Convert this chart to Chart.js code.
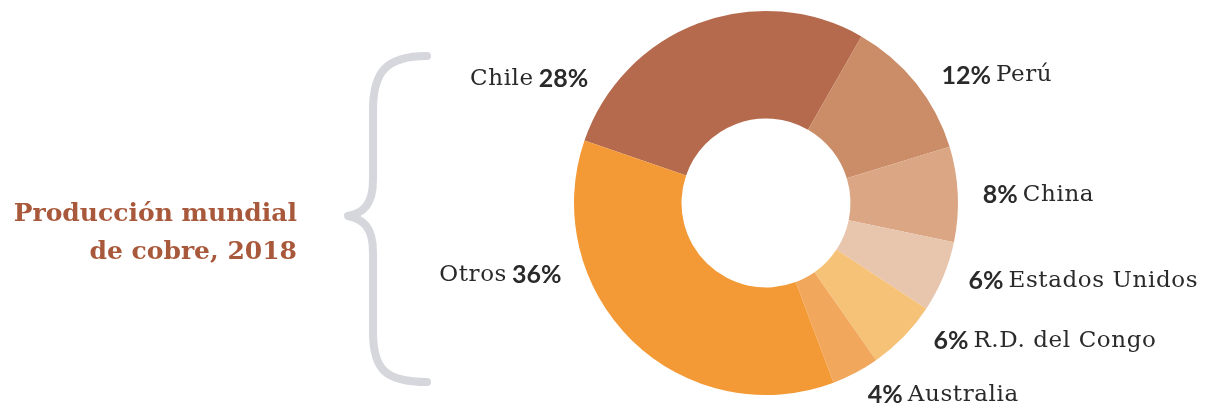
<!DOCTYPE html>
<html lang="es">
<head>
<meta charset="utf-8">
<script src="https://cdn.jsdelivr.net/npm/chart.js@4/dist/chart.umd.min.js"></script>
<style>
  html, body { margin: 0; padding: 0; background: #fff; }
  #wrap { position: relative; width: 1216px; height: 411px; }
  #title {
    position: absolute; right: 919px; top: 194px;
    font-family: 'DejaVu Serif', serif; font-weight: bold; font-size: 25px;
    line-height: 38px; color: #a9593b; text-align: right; white-space: nowrap;
  }
</style>
</head>
<body>
<div id="wrap">
  <div id="title">Producción mundial<br>de cobre, 2018</div>
  <canvas id="chart" width="1216" height="411"></canvas>
</div>
<script>
// Copper production share by country, 2018 (percent)
const countries = ['Chile', 'Perú', 'China', 'Estados Unidos', 'R.D. del Congo', 'Australia', 'Otros'];
const shares = [28, 12, 8, 6, 6, 4, 36];
const sliceColors = ['#b56a4d', '#cb8d68', '#dba683', '#e8c5ad', '#f5c278', '#f2a85c', '#f39a37'];

// where each label sits around the ring (degrees clockwise from 12 o'clock)
const labelAngles = [305, 54, 88, 111, 129.5, 152, 250.5];

const ringLabels = {
  id: 'ringLabels',
  afterDraw(chart) {
    const { ctx } = chart;
    const arcs = chart.getDatasetMeta(0).data;
    if (!arcs.length) return;
    const cx = arcs[0].x, cy = arcs[0].y, r = arcs[0].outerRadius * 1.13;
    ctx.save();
    ctx.textBaseline = 'middle';
    const nameFont = '23px "DejaVu Serif", serif';
    const pctFont = 'bold 25px Lato, sans-serif';
    countries.forEach((name, i) => {
      const a = labelAngles[i] * Math.PI / 180;
      const x = cx + r * Math.sin(a);
      const y = cy - r * Math.cos(a);
      const pct = shares[i] + '%';
      ctx.fillStyle = '#2a2a2a';
      const right = Math.sin(a) >= 0;
      ctx.textAlign = right ? 'left' : 'right';
      ctx.font = pctFont;
      ctx.letterSpacing = '0px';
      ctx.fillText(pct, x, y);
      const w = ctx.measureText(pct).width;
      ctx.font = nameFont;
      ctx.letterSpacing = '0.6px';
      ctx.fillText(name, right ? x + w + 5 : x - w - 5, y);
    });
    ctx.restore();
  }
};

// grey curly brace between the title and the ring
const brace = {
  id: 'brace',
  beforeDraw(chart) {
    const { ctx } = chart;
    ctx.save();
    ctx.strokeStyle = '#d6d6dd';
    ctx.lineWidth = 8;
    ctx.lineCap = 'round';
    ctx.lineJoin = 'round';
    ctx.beginPath();
    ctx.moveTo(427, 56);
    ctx.bezierCurveTo(386, 56, 373, 72, 373, 110);
    ctx.lineTo(373, 180);
    ctx.bezierCurveTo(373, 205, 363, 213, 348, 216);
    ctx.bezierCurveTo(363, 219, 373, 227, 373, 252);
    ctx.lineTo(373, 332);
    ctx.bezierCurveTo(373, 370, 386, 382, 427, 382);
    ctx.stroke();
    ctx.restore();
  }
};

new Chart(document.getElementById('chart'), {
  type: 'doughnut',
  data: {
    labels: countries,
    datasets: [{ data: shares, backgroundColor: sliceColors, borderWidth: 0 }]
  },
  options: {
    responsive: false,
    animation: false,
    rotation: -71,
    cutout: '44%',
    layout: { padding: { left: 574, right: 258, top: 11, bottom: 16 } },
    plugins: { legend: { display: false }, tooltip: { enabled: false } }
  },
  plugins: [brace, ringLabels]
});
</script>
</body>
</html>
